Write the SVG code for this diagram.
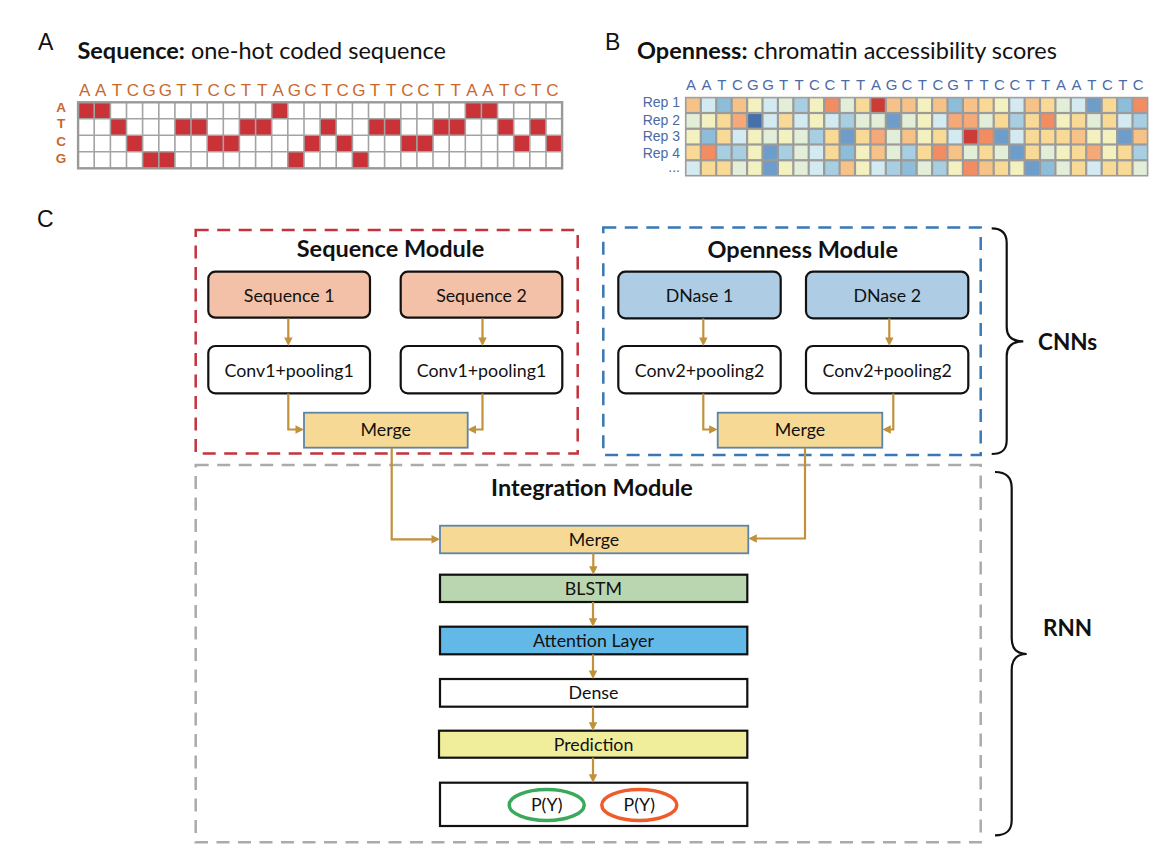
<svg xmlns="http://www.w3.org/2000/svg" width="1170" height="858" viewBox="0 0 1170 858">
<style>
.pl{font-family:"Liberation Sans",Arial,sans-serif;font-size:23px;fill:#111}
.hd{font-family:Lato,"Liberation Sans",sans-serif;font-size:23.5px;fill:#111}
.sqA{font-family:"Liberation Sans",Arial,sans-serif;font-size:17px;fill:#c8682e;text-anchor:middle}
.rowA{font-family:"Liberation Sans",Arial,sans-serif;font-size:13.5px;font-weight:bold;fill:#c8682e;text-anchor:middle}
.sqB{font-family:"Liberation Sans",Arial,sans-serif;font-size:15px;fill:#4a6aa8;text-anchor:middle}
.rep{font-family:"Liberation Sans",Arial,sans-serif;font-size:14px;fill:#4a6aa8;text-anchor:end}
.red{fill:#c93338}
.hm rect{width:13.2px;height:13.5px}
.R{fill:#cc3b36}.O{fill:#f28c62}.p{fill:#f5a878}.o{fill:#f6c287}.Y{fill:#f8da96}.y{fill:#f3f1bf}
.g{fill:#e3eed8}.c{fill:#d3eaf0}.b{fill:#a8cee1}.q{fill:#8dbdd9}.B{fill:#6e9dc9}.D{fill:#4670aa}
.mod{fill:none;stroke-width:2.5;stroke-dasharray:13 8.5}
.mtitle{font-family:Lato,"Liberation Sans",sans-serif;font-size:23.5px;font-weight:bold;fill:#111;text-anchor:middle}
.lbl{font-family:Lato,"Liberation Sans",sans-serif;font-size:17.8px;fill:#111;text-anchor:middle}
.rbox{stroke:#111;stroke-width:2.2}
.mbox{fill:#f6d995;stroke:#5b84ab;stroke-width:1.8}
.conn path{fill:none;stroke:#c1913b;stroke-width:2.2;marker-end:url(#ah)}
.brace{fill:none;stroke:#111;stroke-width:2.2}
.bl{font-family:Lato,"Liberation Sans",sans-serif;font-size:22.5px;font-weight:bold;fill:#111}
</style>
<defs>
<marker id="ah" viewBox="0 0 10 10" refX="5.3" refY="5" markerWidth="8.5" markerHeight="8.5" markerUnits="userSpaceOnUse" orient="auto"><path d="M0,0L10,5L0,10z" fill="#c1913b"/></marker>
</defs>
<rect width="1170" height="858" fill="#fff"/>

<!-- Panel A -->
<g id="panelA">
<text class="pl" x="38" y="49.5">A</text>
<text class="hd" x="77.4" y="59.3"><tspan font-weight="bold">Sequence:</tspan> one-hot coded sequence</text>
<text class="sqA" y="96" x="84.6 100.7 116.9 133 149.1 165.3 181.4 197.5 213.7 229.8 245.9 262.1 278.2 294.3 310.5 326.6 342.7 358.9 375 391.1 407.3 423.4 439.5 455.7 471.8 487.9 504.1 520.2 536.3 552.5">AATCGGTTCCTTAGCTCGTTCCTTAATCTC</text>
<text class="rowA" x="61" y="112">A</text>
<text class="rowA" x="61" y="128.3">T</text>
<text class="rowA" x="61" y="145.5">C</text>
<text class="rowA" x="61" y="163">G</text>
<rect x="78.1" y="102.3" width="484" height="66" fill="#fff"/>
<g class="red">
<rect x="78.1" y="102.3" width="16.13" height="16.5"/><rect x="94.2" y="102.3" width="16.13" height="16.5"/><rect x="271.7" y="102.3" width="16.13" height="16.5"/><rect x="465.3" y="102.3" width="16.13" height="16.5"/><rect x="481.4" y="102.3" width="16.13" height="16.5"/>
<rect x="110.4" y="118.8" width="16.13" height="16.5"/><rect x="174.9" y="118.8" width="16.13" height="16.5"/><rect x="191" y="118.8" width="16.13" height="16.5"/><rect x="239.4" y="118.8" width="16.13" height="16.5"/><rect x="255.6" y="118.8" width="16.13" height="16.5"/><rect x="320.1" y="118.8" width="16.13" height="16.5"/><rect x="368.5" y="118.8" width="16.13" height="16.5"/><rect x="384.6" y="118.8" width="16.13" height="16.5"/><rect x="433" y="118.8" width="16.13" height="16.5"/><rect x="449.2" y="118.8" width="16.13" height="16.5"/><rect x="497.6" y="118.8" width="16.13" height="16.5"/><rect x="529.8" y="118.8" width="16.13" height="16.5"/>
<rect x="126.5" y="135.3" width="16.13" height="16.5"/><rect x="207.2" y="135.3" width="16.13" height="16.5"/><rect x="223.3" y="135.3" width="16.13" height="16.5"/><rect x="304" y="135.3" width="16.13" height="16.5"/><rect x="336.2" y="135.3" width="16.13" height="16.5"/><rect x="400.8" y="135.3" width="16.13" height="16.5"/><rect x="416.9" y="135.3" width="16.13" height="16.5"/><rect x="513.7" y="135.3" width="16.13" height="16.5"/><rect x="546" y="135.3" width="16.13" height="16.5"/>
<rect x="142.6" y="151.8" width="16.13" height="16.5"/><rect x="158.8" y="151.8" width="16.13" height="16.5"/><rect x="287.8" y="151.8" width="16.13" height="16.5"/><rect x="352.4" y="151.8" width="16.13" height="16.5"/>
</g>
<path fill="none" stroke="#a3a3a3" stroke-width="1.6" d="M94.2 102.3V168.3M110.4 102.3V168.3M126.5 102.3V168.3M142.6 102.3V168.3M158.8 102.3V168.3M174.9 102.3V168.3M191 102.3V168.3M207.2 102.3V168.3M223.3 102.3V168.3M239.4 102.3V168.3M255.6 102.3V168.3M271.7 102.3V168.3M287.8 102.3V168.3M304 102.3V168.3M320.1 102.3V168.3M336.2 102.3V168.3M352.4 102.3V168.3M368.5 102.3V168.3M384.6 102.3V168.3M400.8 102.3V168.3M416.9 102.3V168.3M433 102.3V168.3M449.2 102.3V168.3M465.3 102.3V168.3M481.4 102.3V168.3M497.6 102.3V168.3M513.7 102.3V168.3M529.8 102.3V168.3M546 102.3V168.3M78.1 118.8H562.1M78.1 135.3H562.1M78.1 151.8H562.1"/>
<rect x="78.1" y="102.3" width="484" height="66" fill="none" stroke="#999" stroke-width="2.4"/>
</g>

<!-- Panel B -->
<g id="panelB">
<text class="pl" x="605" y="49.5">B</text>
<text class="hd" x="637" y="59.3"><tspan font-weight="bold">Openness:</tspan> chromatin accessibility scores</text>
<text class="sqB" y="90" x="691.1 706.5 721.9 737.4 752.8 768.2 783.6 799 814.4 829.9 845.3 860.7 876.1 891.5 906.9 922.4 937.8 953.2 968.6 984 999.4 1014.9 1030.3 1045.7 1061.1 1076.5 1091.9 1107.4 1122.8 1138.2">AATCGGTTCCTTAGCTCGTTCCTTAATCTC</text>
<text class="rep" x="680" y="106.7">Rep 1</text>
<text class="rep" x="680" y="125">Rep 2</text>
<text class="rep" x="680" y="140.7">Rep 3</text>
<text class="rep" x="680" y="158.3">Rep 4</text>
<text class="rep" x="680" y="172">...</text>
<rect x="685.4" y="97.3" width="462.5" height="78.7" fill="#9b9b9b" stroke="#9b9b9b" stroke-width="1"/>
<g class="hm">
<g transform="translate(0,98.4)">
<rect class="o" x="686.5"/><rect class="c" x="701.9"/><rect class="q" x="717.3"/><rect class="o" x="732.8"/><rect class="y" x="748.2"/><rect class="c" x="763.6"/><rect class="g" x="779"/><rect class="b" x="794.4"/><rect class="y" x="809.8"/><rect class="O" x="825.3"/><rect class="g" x="840.7"/><rect class="Y" x="856.1"/><rect class="R" x="871.5"/><rect class="o" x="886.9"/><rect class="o" x="902.3"/><rect class="y" x="917.8"/><rect class="o" x="933.2"/><rect class="q" x="948.6"/><rect class="o" x="964"/><rect class="Y" x="979.4"/><rect class="y" x="994.8"/><rect class="c" x="1010.3"/><rect class="o" x="1025.7"/><rect class="Y" x="1041.1"/><rect class="g" x="1056.5"/><rect class="c" x="1071.9"/><rect class="B" x="1087.3"/><rect class="Y" x="1102.8"/><rect class="q" x="1118.2"/><rect class="O" x="1133.6"/>
</g>
<g transform="translate(0,114.1)">
<rect class="g" x="686.5"/><rect class="y" x="701.9"/><rect class="Y" x="717.3"/><rect class="p" x="732.8"/><rect class="D" x="748.2"/><rect class="c" x="763.6"/><rect class="Y" x="779"/><rect class="c" x="794.4"/><rect class="y" x="809.8"/><rect class="c" x="825.3"/><rect class="b" x="840.7"/><rect class="g" x="856.1"/><rect class="g" x="871.5"/><rect class="B" x="886.9"/><rect class="g" x="902.3"/><rect class="y" x="917.8"/><rect class="c" x="933.2"/><rect class="p" x="948.6"/><rect class="p" x="964"/><rect class="g" x="979.4"/><rect class="Y" x="994.8"/><rect class="b" x="1010.3"/><rect class="Y" x="1025.7"/><rect class="O" x="1041.1"/><rect class="y" x="1056.5"/><rect class="Y" x="1071.9"/><rect class="g" x="1087.3"/><rect class="Y" x="1102.8"/><rect class="c" x="1118.2"/><rect class="b" x="1133.6"/>
</g>
<g transform="translate(0,129.9)">
<rect class="y" x="686.5"/><rect class="q" x="701.9"/><rect class="Y" x="717.3"/><rect class="c" x="732.8"/><rect class="y" x="748.2"/><rect class="g" x="763.6"/><rect class="y" x="779"/><rect class="g" x="794.4"/><rect class="b" x="809.8"/><rect class="Y" x="825.3"/><rect class="B" x="840.7"/><rect class="Y" x="856.1"/><rect class="p" x="871.5"/><rect class="g" x="886.9"/><rect class="o" x="902.3"/><rect class="y" x="917.8"/><rect class="Y" x="933.2"/><rect class="c" x="948.6"/><rect class="R" x="964"/><rect class="O" x="979.4"/><rect class="B" x="994.8"/><rect class="c" x="1010.3"/><rect class="Y" x="1025.7"/><rect class="Y" x="1041.1"/><rect class="Y" x="1056.5"/><rect class="o" x="1071.9"/><rect class="y" x="1087.3"/><rect class="y" x="1102.8"/><rect class="B" x="1118.2"/><rect class="o" x="1133.6"/>
</g>
<g transform="translate(0,145.6)">
<rect class="Y" x="686.5"/><rect class="O" x="701.9"/><rect class="b" x="717.3"/><rect class="b" x="732.8"/><rect class="y" x="748.2"/><rect class="B" x="763.6"/><rect class="b" x="779"/><rect class="g" x="794.4"/><rect class="c" x="809.8"/><rect class="Y" x="825.3"/><rect class="q" x="840.7"/><rect class="y" x="856.1"/><rect class="o" x="871.5"/><rect class="g" x="886.9"/><rect class="b" x="902.3"/><rect class="Y" x="917.8"/><rect class="O" x="933.2"/><rect class="o" x="948.6"/><rect class="g" x="964"/><rect class="Y" x="979.4"/><rect class="g" x="994.8"/><rect class="B" x="1010.3"/><rect class="Y" x="1025.7"/><rect class="g" x="1041.1"/><rect class="y" x="1056.5"/><rect class="Y" x="1071.9"/><rect class="p" x="1087.3"/><rect class="y" x="1102.8"/><rect class="Y" x="1118.2"/><rect class="b" x="1133.6"/>
</g>
<g transform="translate(0,161.4)">
<rect class="c" x="686.5"/><rect class="Y" x="701.9"/><rect class="Y" x="717.3"/><rect class="g" x="732.8"/><rect class="y" x="748.2"/><rect class="B" x="763.6"/><rect class="y" x="779"/><rect class="g" x="794.4"/><rect class="c" x="809.8"/><rect class="b" x="825.3"/><rect class="o" x="840.7"/><rect class="y" x="856.1"/><rect class="c" x="871.5"/><rect class="b" x="886.9"/><rect class="q" x="902.3"/><rect class="g" x="917.8"/><rect class="b" x="933.2"/><rect class="y" x="948.6"/><rect class="O" x="964"/><rect class="o" x="979.4"/><rect class="Y" x="994.8"/><rect class="y" x="1010.3"/><rect class="B" x="1025.7"/><rect class="q" x="1041.1"/><rect class="g" x="1056.5"/><rect class="Y" x="1071.9"/><rect class="c" x="1087.3"/><rect class="Y" x="1102.8"/><rect class="Y" x="1118.2"/><rect class="g" x="1133.6"/>
</g>
</g>
</g>

<!-- Panel C -->
<text class="pl" x="37" y="227">C</text>

<g id="sequenceModule">
<rect class="mod" x="195.7" y="230" width="382" height="223.5" stroke="#c4323c"/>
<text class="mtitle" x="390.5" y="257.3">Sequence Module</text>
</g>
<g id="opennessModule">
<rect class="mod" x="603.3" y="227.5" width="377.4" height="227.5" stroke="#3a78b5"/>
<text class="mtitle" x="802.8" y="258.3">Openness Module</text>
</g>
<g id="integrationModule">
<rect class="mod" x="195.7" y="465" width="785" height="377.3" stroke="#ababab"/>
<text class="mtitle" x="592" y="495.5">Integration Module</text>
</g>

<g id="seq1"><rect class="rbox" x="208.3" y="271.7" width="161.7" height="46" rx="7" fill="#f2c1a7"/><text class="lbl" x="289.2" y="301.5">Sequence 1</text></g>
<g id="seq2"><rect class="rbox" x="400.7" y="271.7" width="161.6" height="46" rx="7" fill="#f2c1a7"/><text class="lbl" x="481.5" y="301.5">Sequence 2</text></g>
<g id="conv1a"><rect class="rbox" x="208.3" y="346" width="161.7" height="47.3" rx="7" fill="#fff"/><text class="lbl" x="289.2" y="376.5">Conv1+pooling1</text></g>
<g id="conv1b"><rect class="rbox" x="400.7" y="346" width="161.6" height="47.3" rx="7" fill="#fff"/><text class="lbl" x="481.5" y="376.5">Conv1+pooling1</text></g>
<g id="mergeSeq"><rect class="mbox" x="304" y="412.7" width="163.7" height="35"/><text class="lbl" x="385.8" y="436">Merge</text></g>

<g id="dnase1"><rect class="rbox" x="618.3" y="271.7" width="162.4" height="46.6" rx="7" fill="#aecce4"/><text class="lbl" x="699.5" y="301.5">DNase 1</text></g>
<g id="dnase2"><rect class="rbox" x="806" y="271.7" width="162.3" height="46.6" rx="7" fill="#aecce4"/><text class="lbl" x="887.2" y="301.5">DNase 2</text></g>
<g id="conv2a"><rect class="rbox" x="618.3" y="346" width="162.4" height="47.3" rx="7" fill="#fff"/><text class="lbl" x="699.5" y="376.5">Conv2+pooling2</text></g>
<g id="conv2b"><rect class="rbox" x="806" y="346" width="162.3" height="47.3" rx="7" fill="#fff"/><text class="lbl" x="887.2" y="376.5">Conv2+pooling2</text></g>
<g id="mergeOpen"><rect class="mbox" x="717.7" y="412.7" width="164.6" height="35"/><text class="lbl" x="800" y="436">Merge</text></g>

<g id="mergeInt"><rect class="mbox" x="440" y="525.7" width="308.3" height="27.6"/><text class="lbl" x="594" y="545.5">Merge</text></g>
<g id="blstm"><rect class="rbox" x="440" y="574.7" width="307.3" height="27.3" fill="#b9d6b0"/><text class="lbl" x="593.5" y="594.5">BLSTM</text></g>
<g id="attention"><rect class="rbox" x="440" y="626.7" width="307.3" height="27.6" fill="#62b8e7"/><text class="lbl" x="593.5" y="647">Attention Layer</text></g>
<g id="dense"><rect class="rbox" x="440" y="679" width="307.3" height="27.7" fill="#fff"/><text class="lbl" x="593.5" y="699.3">Dense</text></g>
<g id="prediction"><rect class="rbox" x="439" y="730.7" width="308.3" height="27" fill="#f0ee9b"/><text class="lbl" x="593.5" y="751">Prediction</text></g>
<g id="output"><rect class="rbox" x="440" y="782.7" width="307.3" height="43.3" fill="#fff"/>
<ellipse cx="546.7" cy="805" rx="37.5" ry="15.5" fill="none" stroke="#3aa95b" stroke-width="3.5"/>
<ellipse cx="639.3" cy="805" rx="37.5" ry="15.5" fill="none" stroke="#ef5b2a" stroke-width="3.5"/>
<text class="lbl" x="546.7" y="811">P(Y)</text>
<text class="lbl" x="639.3" y="811">P(Y)</text>
</g>

<g id="connectors" class="conn">
<path d="M288.3 318.5V342"/>
<path d="M482.5 318.5V342"/>
<path d="M288.3 393.5V429.5H300"/>
<path d="M482.5 393.5V429.5H471.7"/>
<path d="M703.3 318.5V342"/>
<path d="M889.3 318.5V342"/>
<path d="M703.3 393.5V429.5H713.7"/>
<path d="M893.3 393.5V429.5H886.3"/>
<path d="M391.7 447.7V539.3H436"/>
<path d="M805 447.7V538.5H752.3"/>
<path d="M593.3 553.3V570.7"/>
<path d="M593 602V622.7"/>
<path d="M593 654.3V675"/>
<path d="M593 706.7V726.7"/>
<path d="M593 757.7V778.7"/>
</g>

<g id="cnnsBrace">
<path class="brace" d="M991.7 228.4C1002 228.4 1006.7 233 1006.7 243L1006.7 327C1006.7 336 1012 341.4 1023.3 341.4C1012 341.4 1006.7 347 1006.7 356L1006.7 440C1006.7 450 1002 454 991.7 454"/>
<text class="bl" x="1038" y="350">CNNs</text>
</g>
<g id="rnnBrace">
<path class="brace" d="M995 472C1006 472 1011.7 477 1011.7 488L1011.7 638C1011.7 648 1016 654 1026.7 654C1016 654 1011.7 660 1011.7 670L1011.7 820C1011.7 831 1006 835.3 995 835.3"/>
<text class="bl" x="1043" y="636">RNN</text>
</g>
</svg>
